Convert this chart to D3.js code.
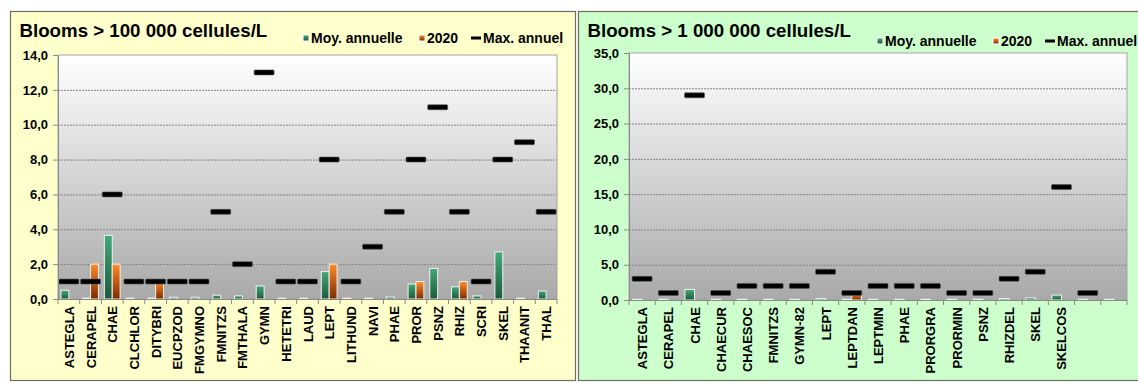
<!DOCTYPE html>
<html>
<head>
<meta charset="utf-8">
<script src="https://cdn.jsdelivr.net/npm/d3@7"></script>
<style>
  body { margin: 0; background: #fff; }
  svg text { font-family: "Liberation Sans", Arial, sans-serif; font-weight: bold; }
</style>
</head>
<body>
<script>
// Left chart: blooms > 100 000 cells/L
var cats1 = ["ASTEGLA", "CERAPEL", "CHAE", "CLCHLOR", "DITYBRI", "EUCPZOD", "FMGYMNO", "FMNITZS",
  "FMTHALA", "GYMN", "HETETRI", "LAUD", "LEPT", "LITHUND", "NAVI", "PHAE", "PROR", "PSNZ",
  "RHIZ", "SCRI", "SKEL", "THAANIT", "THAL"];
var moy1 = [0.5, 0.05, 3.65, 0.05, 0.05, 0.1, 0.1, 0.22, 0.18, 0.75, 0.05, 0.05, 1.57, 0.05,
  0.05, 0.12, 0.86, 1.75, 0.7, 0.18, 2.7, 0.05, 0.46];
var y2020_1 = [0, 2, 2, 0, 1, 0, 0, 0, 0, 0, 0, 0, 2, 0, 0, 0, 1, 0, 1, 0, 0, 0, 0];
var max1 = [1, 1, 6, 1, 1, 1, 1, 5, 2, 13, 1, 1, 8, 1, 3, 5, 8, 11, 5, 1, 8, 9, 5];
var ticks1 = [0, 2, 4, 6, 8, 10, 12, 14];

// Right chart: blooms > 1 000 000 cells/L
var cats2 = ["ASTEGLA", "CERAPEL", "CHAE", "CHAECUR", "CHAESOC", "FMNITZS", "GYMN-82", "LEPT",
  "LEPTDAN", "LEPTMIN", "PHAE", "PRORGRA", "PRORMIN", "PSNZ", "RHIZDEL", "SKEL", "SKELCOS", "", " "];
var moy2 = [0.1, 0.1, 1.5, 0.1, 0.1, 0.1, 0.1, 0.2, 0.1, 0.1, 0.1, 0.1, 0.1, 0.1, 0.2, 0.3, 0.7, 0.1, 0.1];
var y2020_2 = [0, 0, 0, 0, 0, 0, 0, 0, 1, 0, 0, 0, 0, 0, 0, 0, 0, 0, 0];
var max2 = [3, 1, 29, 1, 2, 2, 2, 4, 1, 2, 2, 2, 1, 1, 3, 4, 16, 1, null];
var ticks2 = [0, 5, 10, 15, 20, 25, 30, 35];

var width = 1138,
    height = 383;

var fr = d3.formatLocale({decimal: ",", thousands: " ", grouping: [3], currency: ["", ""]});
var fmt = fr.format(".1f");

var svg = d3.select("body").append("svg")
    .attr("width", width)
    .attr("height", height);

var defs = svg.append("defs");

function vGrad(id, top, bottom) {
    var g = defs.append("linearGradient").attr("id", id)
        .attr("x1", 0).attr("y1", 0).attr("x2", 0).attr("y2", 1);
    g.append("stop").attr("offset", "0%").attr("stop-color", top);
    g.append("stop").attr("offset", "100%").attr("stop-color", bottom);
}
vGrad("gGreen", "#45a877", "#1b5a3b");
vGrad("gOrange", "#ff8a2a", "#7c2c00");
vGrad("gPlot", "#ffffff", "#a9a9a9");

function drawChart(o) {
    var g = svg.append("g");

    // panel
    g.append("rect")
        .attr("x", o.px).attr("y", o.py)
        .attr("width", o.pw).attr("height", o.ph)
        .style("fill", o.bg)
        .style("stroke", "#6f6f5f")
        .style("stroke-width", 1.2);

    g.append("text")
        .attr("x", o.px + 9).attr("y", o.py + 25)
        .style("font-size", "18.7px")
        .text(o.title);

    var x = d3.scaleBand().domain(o.cats.map(function(d, i) { return i; }))
        .range([o.x0, o.x1]);
    var y = d3.scaleLinear().domain([0, o.ymax]).range([o.y1, o.y0]);

    // plot area
    g.append("rect")
        .attr("x", o.x0).attr("y", o.y0)
        .attr("width", o.x1 - o.x0).attr("height", o.y1 - o.y0)
        .style("fill", "url(#gPlot)");

    g.selectAll(".grid").data(o.ticks.filter(function(d) { return d > 0 && d < o.ymax; }))
        .enter().append("line")
        .attr("x1", o.x0).attr("x2", o.x1)
        .attr("y1", function(d) { return y(d) + 0.5; })
        .attr("y2", function(d) { return y(d) + 0.5; })
        .style("stroke", "#858585")
        .style("stroke-dasharray", "2,1");

    g.append("rect")
        .attr("x", o.x0).attr("y", o.y0)
        .attr("width", o.x1 - o.x0).attr("height", o.y1 - o.y0)
        .style("fill", "none")
        .style("stroke", "#a3a3a3");

    var bw = x.bandwidth() / 2.75,
        off = (x.bandwidth() - 2 * bw) / 2;

    // keep the category index with each value
    var moyPts = o.moy.map(function(v, i) { return {i: i, v: v}; });
    var y20Pts = o.y2020.map(function(v, i) { return {i: i, v: v}; }).filter(function(d) { return d.v > 0; });
    var maxPts = o.max.map(function(v, i) { return {i: i, v: v}; }).filter(function(d) { return d.v != null; });

    // bars: yearly mean
    g.selectAll(".moy").data(moyPts).enter().append("rect")
        .attr("x", function(d) { return x(d.i) + off; })
        .attr("y", function(d) { return y(d.v); })
        .attr("width", bw)
        .attr("height", function(d) { return y(0) - y(d.v); })
        .style("fill", "url(#gGreen)")
        .style("stroke", "#eef3ee")
        .style("stroke-width", 1);

    // bars: 2020
    g.selectAll(".y20").data(y20Pts).enter().append("rect")
        .attr("x", function(d) { return x(d.i) + off + bw; })
        .attr("y", function(d) { return y(d.v); })
        .attr("width", bw)
        .attr("height", function(d) { return y(0) - y(d.v); })
        .style("fill", "url(#gOrange)")
        .style("stroke", "#f5eee8")
        .style("stroke-width", 1);

    // max markers
    g.selectAll(".mx").data(maxPts).enter().append("rect")
        .attr("x", function(d) { return x(d.i) + x.bandwidth() / 2 - 10; })
        .attr("y", function(d) { return y(d.v) - 2.5; })
        .attr("width", 20).attr("height", 5)
        .attr("rx", 1)
        .style("fill", "#000")
        .style("stroke", "#555")
        .style("stroke-width", 0.6);

    // y axis
    var ya = g.append("g")
        .attr("transform", "translate(" + o.x0 + ",0)")
        .call(d3.axisLeft(y).tickValues(o.ticks).tickSize(5).tickPadding(5).tickFormat(fmt));
    ya.select(".domain").style("stroke", "#8a8a8a");
    ya.selectAll(".tick line").style("stroke", "#8a8a8a");
    ya.selectAll("text").style("font-size", "13px").style("fill", "#000")
        .style("font-family", "'Liberation Sans', Arial, sans-serif");

    // x axis
    g.append("line")
        .attr("x1", o.x0).attr("x2", o.x1)
        .attr("y1", o.y1 + 0.5).attr("y2", o.y1 + 0.5)
        .style("stroke", "#8a8a8a");
    var bounds = d3.range(o.cats.length + 1).map(function(i) { return o.x0 + i * x.step(); });
    g.selectAll(".xt").data(bounds).enter().append("line")
        .attr("x1", function(d) { return d; }).attr("x2", function(d) { return d; })
        .attr("y1", o.y1).attr("y2", o.y1 + 5)
        .style("stroke", "#8a8a8a");
    g.selectAll(".xl").data(o.cats).enter().append("text")
        .attr("transform", function(d, i) {
            return "translate(" + (x(i) + x.bandwidth() / 2 + 5) + "," + (o.y1 + 7) + ") rotate(-90)";
        })
        .attr("text-anchor", "end")
        .style("font-size", "13px")
        .text(function(d) { return d; });

    // legend
    var lg = g.append("g").attr("transform", "translate(" + o.lx + "," + o.ly + ")");
    lg.append("rect").attr("x", 0).attr("y", -8).attr("width", 6).attr("height", 6)
        .style("fill", "url(#gGreen)").style("stroke", "#fff");
    lg.append("text").attr("x", 8).attr("y", 0).style("font-size", "14px").text("Moy. annuelle");
    lg.append("rect").attr("x", 116).attr("y", -8).attr("width", 6).attr("height", 6)
        .style("fill", "url(#gOrange)").style("stroke", "#fff");
    lg.append("text").attr("x", 124).attr("y", 0).style("font-size", "14px").text("2020");
    lg.append("rect").attr("x", 168).attr("y", -6.5).attr("width", 10).attr("height", 3)
        .style("fill", "#000");
    lg.append("text").attr("x", 180).attr("y", 0).style("font-size", "14px").text("Max. annuel");
}

drawChart({
    px: 10.5, py: 11.5, pw: 565, ph: 369, bg: "#ffffcc",
    title: "Blooms > 100 000 cellules/L",
    cats: cats1, moy: moy1, y2020: y2020_1, max: max1, ticks: ticks1, ymax: 14,
    x0: 58, x1: 557, y0: 55, y1: 299,
    lx: 303, ly: 43
});

drawChart({
    px: 578.5, py: 11.5, pw: 570, ph: 369, bg: "#ccffcc",
    title: "Blooms > 1 000 000 cellules/L",
    cats: cats2, moy: moy2, y2020: y2020_2, max: max2, ticks: ticks2, ymax: 35,
    x0: 629, x1: 1127, y0: 53, y1: 300,
    lx: 877, ly: 46
});
</script>
</body>
</html>
